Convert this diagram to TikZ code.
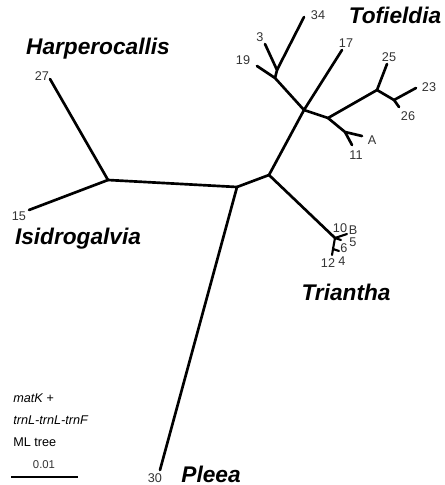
\documentclass[tikz,border=0pt]{standalone}
\usepackage{fontspec}
\setmainfont{Liberation Sans}
\begin{document}
\begin{tikzpicture}[x=0.75pt,y=-0.75pt,
  br/.style={line width=2pt,line cap=round,line join=round},
  tip/.style={font=\fontsize{9.5}{10}\selectfont,inner sep=0pt,text=black!80},
  clade/.style={font=\fontsize{17}{19}\selectfont\bfseries\itshape,inner sep=0pt},
  note/.style={font=\fontsize{9.5}{11}\selectfont,inner sep=0pt,anchor=west}]
\useasboundingbox (0,0) rectangle (444,485);
% internal nodes
\coordinate (hi) at (108,180);
\coordinate (c) at (237,187);
\coordinate (u) at (269,175);
\coordinate (tof) at (304,110);
\coordinate (j1) at (275,78);
\coordinate (j2) at (277,70);
\coordinate (k1) at (328,118);
\coordinate (k2) at (377,90);
\coordinate (k3) at (394,100);
\coordinate (k4) at (345,132);
\coordinate (t1) at (335,238);
\coordinate (t2) at (333,249);
% tips
\coordinate (p27) at (50,79);
\coordinate (p15) at (29,210);
\coordinate (p30) at (160,470);
\coordinate (p19) at (257,66);
\coordinate (p3) at (265,44);
\coordinate (p34) at (304,17);
\coordinate (p17) at (342,50);
\coordinate (p25) at (387,64);
\coordinate (p23) at (416,88);
\coordinate (p26) at (399,107);
\coordinate (pA) at (362,136);
\coordinate (p11) at (352,145);
\coordinate (pB) at (347,234);
\coordinate (p5) at (341,240);
\coordinate (p6) at (339,251);
\coordinate (p124) at (332,255);
% branches
\draw[br] (p27) -- (hi) -- (p15);
\draw[br] (hi) -- (c) -- (p30);
\draw[br] (c) -- (u) -- (tof);
\draw[br] (u) -- (t1);
\draw[br] (tof) -- (p17);
\draw[br] (tof) -- (j1) -- (p19);
\draw[br] (j1) -- (j2) -- (p3);
\draw[br] (j2) -- (p34);
\draw[br] (tof) -- (k1) -- (k2) -- (p25);
\draw[br] (k2) -- (k3) -- (p23);
\draw[br] (k3) -- (p26);
\draw[br] (k1) -- (k4) -- (pA);
\draw[br] (k4) -- (p11);
\draw[br,line width=1.6pt] (t1) -- (pB);
\draw[br,line width=1.6pt] (t1) -- (p5);
\draw[br,line width=1.6pt] (t1) -- (t2) -- (p6);
\draw[br,line width=1.6pt] (t2) -- (p124);
% tip labels
\node[tip] (l27) at (42,76) {27};
\node[tip] (l15) at (19,216) {15};
\node[tip] (l30) at (155,478) {30};
\node[tip] (l19) at (243,60) {19};
\node[tip] (l3) at (260,37) {3};
\node[tip] (l34) at (318,15) {34};
\node[tip] (l17) at (346,43) {17};
\node[tip] (l25) at (389,57) {25};
\node[tip] (l23) at (429,87) {23};
\node[tip] (l26) at (408,116) {26};
\node[tip] (lA) at (372,140) {A};
\node[tip] (l11) at (356,155) {11};
\node[tip] (l10) at (340,228) {10};
\node[tip] (lB) at (353,230) {B};
\node[tip] (l5) at (353,242) {5};
\node[tip] (l6) at (344,248) {6};
\node[tip] (l12) at (328,263) {12};
\node[tip] (l4) at (342,261) {4};
% clade names
\node[clade] (tofn) at (395,15) {Tofieldia};
\node[clade] (harn) at (98,49) {Harperocallis};
\node[clade] (isin) at (78,239) {Isidrogalvia};
\node[clade] (trin) at (346,292) {Triantha};
\node[clade] (plen) at (211,474) {Pleea};
% legend
\node[note] (n1) at (13,398) {\itshape matK +};
\node[note] (n2) at (13,420) {\itshape trnL-trnL-trnF};
\node[note] (n3) at (13,442) {ML tree};
\node[tip,font=\fontsize{8.5}{10}\selectfont] (sc) at (44,465) {0.01};
\coordinate (s1) at (11,477);
\coordinate (s2) at (78,477);
\draw[line width=1pt] (s1) -- (s2);
\end{tikzpicture}
\end{document}
